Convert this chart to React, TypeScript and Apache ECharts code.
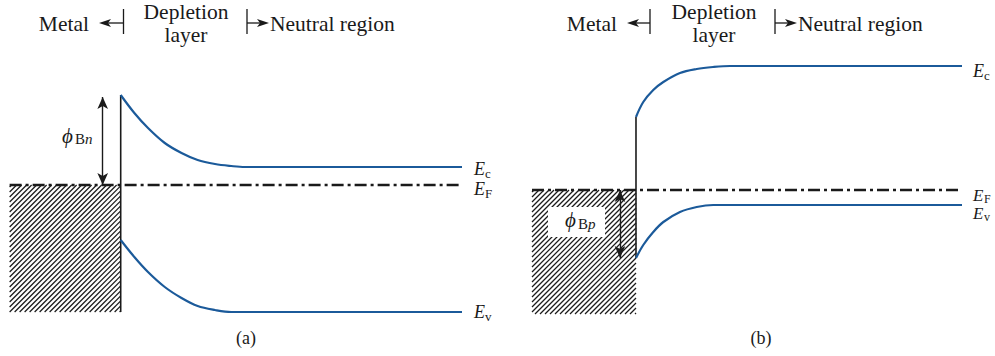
import React, { useEffect, useRef } from "react";
import * as echarts from "echarts";

// ---- Panel (a): n-type semiconductor (position in depletion widths, energy in eV, E_F = 0)
const depthA = [0, 0.11, 0.22, 0.355, 0.49, 0.62, 0.76, 0.89, 1.0, 2.75];
const ecA = [0.9, 0.72, 0.57, 0.42, 0.32, 0.25, 0.21, 0.19, 0.18, 0.18];
const evA = [-0.55, -0.72, -0.87, -1.02, -1.13, -1.21, -1.25, -1.27, -1.27, -1.27];
const metalA = [-0.895, -1.27]; // left edge, bottom
const fermiA = [-0.895, 2.75];
const phiBnArrow = [-0.145, 0.88]; // x, top

// ---- Panel (b): p-type semiconductor
const depthB = [0, 0.07, 0.166, 0.263, 0.423, 0.584, 0.743, 0.904, 1.064, 3.135];
const ecB = [0.73, 0.88, 1.0, 1.08, 1.17, 1.21, 1.23, 1.24, 1.24, 1.24];
const evB = [-0.68, -0.55, -0.42, -0.32, -0.22, -0.17, -0.15, -0.15, -0.15, -0.15];
const metalB = [-1.0, -1.24];
const fermiB = [-1.0, 3.135];
const phiBpArrow = [-0.154, -0.68];

const SERIF = '"Liberation Serif", "DejaVu Serif", "Times New Roman", serif';
const BLUE = "#1b5a9a";
const INK = "#1a1a1a";

function hatch(idx: number, left: number, bottom: number) {
  return {
    type: "custom",
    xAxisIndex: idx,
    yAxisIndex: idx,
    silent: true,
    z: 1,
    encode: { x: [0, 1], y: [2, 3] },
    data: [[left, 0, bottom, 0]],
    renderItem: (_p: any, api: any) => {
      const p0 = api.coord([api.value(0), api.value(3)]);
      const p1 = api.coord([api.value(1), api.value(2)]);
      const x0 = p0[0], y0 = p0[1], x1 = p1[0], y1 = p1[1];
      const step = 5;
      const children: any[] = [];
      for (let c = x0 + y0 + 2; c < x1 + y1; c += step) {
        const xa = Math.max(x0, c - y1);
        const xb = Math.min(x1, c - y0);
        if (xb <= xa) continue;
        children.push({
          type: "line",
          shape: { x1: xa, y1: c - xa, x2: xb, y2: c - xb },
          style: { stroke: INK, lineWidth: 1.25 },
        });
      }
      return { type: "group", children };
    },
  };
}

function curve(idx: number, xs: number[], ys: number[]) {
  return {
    type: "line",
    xAxisIndex: idx,
    yAxisIndex: idx,
    data: xs.map((x, i) => [x, ys[i]]),
    smooth: 0.35,
    symbol: "none",
    silent: true,
    z: 4,
    lineStyle: { color: BLUE, width: 2.2 },
  };
}

function seg(idx: number, pts: number[][], style: any) {
  return {
    type: "line",
    xAxisIndex: idx,
    yAxisIndex: idx,
    data: pts,
    symbol: "none",
    silent: true,
    z: 3,
    lineStyle: style,
  };
}

function arrow(idx: number, x: number, yA: number, yB: number) {
  return {
    type: "line",
    xAxisIndex: idx,
    yAxisIndex: idx,
    data: [],
    silent: true,
    z: 5,
    markLine: {
      silent: true,
      symbol: ["arrow", "arrow"],
      symbolSize: [8, 12],
      label: { show: false },
      lineStyle: { color: INK, width: 1.4, type: "solid" },
      data: [[{ coord: [x, yA] }, { coord: [x, yB] }]],
    },
  };
}

const subRich = {
  b: { fontFamily: SERIF, fontSize: 15, fill: INK },
  bi: { fontFamily: SERIF, fontSize: 15, fontStyle: "italic", fill: INK },
};

// symbol with a lowered subscript, drawn as two texts
function symbol(
  x: number, yc: number, main: string, mainSize: number,
  sub: string, subSize: number, subDx: number, subDy: number,
) {
  return [
    {
      type: "text", z: 60,
      style: {
        x, y: yc, text: main, fill: INK, align: "left", verticalAlign: "middle",
        font: `italic ${mainSize}px ${SERIF}`, lineHeight: mainSize - 4,
      },
    },
    {
      type: "text", z: 60,
      style: {
        x: x + subDx, y: yc + subDy, text: sub, rich: subRich, fill: INK, align: "left", verticalAlign: "middle",
        font: `${subSize}px ${SERIF}`, lineHeight: subSize - 2,
      },
    },
  ];
}

function header(dx: number, dxBar: number) {
  const line = (x1: number, y1: number, x2: number, y2: number) => ({
    type: "line",
    z: 60,
    shape: { x1, y1, x2, y2 },
    style: { stroke: INK, lineWidth: 1.3 },
  });
  const font = `21.5px ${SERIF}`;
  const txt = (x: number, y: number, text: string, align: string) => ({
    type: "text",
    z: 60,
    style: { x, y, text, font, lineHeight: 19, fill: INK, align, verticalAlign: "middle" },
  });
  return [
    txt(89 + dx, 24, "Metal", "right"),
    { type: "polygon", z: 60, shape: { points: [[99 + dx, 23], [111 + dx, 19], [108 + dx, 23], [111 + dx, 27]] }, style: { fill: INK } },
    line(108 + dx, 23, 123.5 + dxBar, 23),
    line(123.5 + dxBar, 9, 123.5 + dxBar, 34),
    txt(186 + dx, 12, "Depletion", "center"),
    txt(186 + dx, 35, "layer", "center"),
    line(247 + dx, 9, 247 + dx, 34),
    line(247 + dx, 23, 260 + dx, 23),
    { type: "polygon", z: 60, shape: { points: [[269 + dx, 23], [257 + dx, 19], [260 + dx, 23], [257 + dx, 27]] }, style: { fill: INK } },
    txt(270 + dx, 24, "Neutral region", "left"),
  ];
}

export default function App() {
  const ref = useRef<HTMLDivElement>(null);
  useEffect(() => {
    if (!ref.current) return;
    const chart = echarts.init(ref.current, undefined, { renderer: "svg" });
    const hidden = { show: false };
    chart.setOption({
      animation: false,
      backgroundColor: "#ffffff",
      grid: [
        { left: 9, width: 453, top: 60, height: 270 },
        { left: 532, width: 430, top: 40, height: 290 },
      ],
      xAxis: [
        { type: "value", gridIndex: 0, min: -0.9, max: 2.75, ...hidden },
        { type: "value", gridIndex: 1, min: -1.0, max: 3.135, ...hidden },
      ],
      yAxis: [
        { type: "value", gridIndex: 0, min: -1.45, max: 1.25, ...hidden },
        { type: "value", gridIndex: 1, min: -1.4, max: 1.5, ...hidden },
      ],
      series: [
        hatch(0, metalA[0], metalA[1]),
        hatch(1, metalB[0], metalB[1]),
        seg(0, [[fermiA[0], 0], [fermiA[1], 0]], { color: INK, width: 2.6, type: [12, 4, 3, 4] }),
        seg(1, [[fermiB[0], 0], [fermiB[1], 0]], { color: INK, width: 2.6, type: [12, 4, 3, 4] }),
        seg(0, [[0, ecA[0]], [0, metalA[1]]], { color: INK, width: 1.6 }),
        seg(1, [[0, ecB[0]], [0, evB[0]]], { color: INK, width: 1.6 }),
        curve(0, depthA, ecA),
        curve(0, depthA, evA),
        curve(1, depthB, ecB),
        curve(1, depthB, evB),
        arrow(0, phiBnArrow[0], 0, phiBnArrow[1]),
        arrow(1, phiBpArrow[0], 0, phiBpArrow[1]),
      ],
      graphic: [
        ...header(0, 0),
        ...header(528, 526.5),
        ...symbol(474, 169, "E", 18, "c", 13, 11, 4.5),
        ...symbol(474, 189, "E", 18, "F", 13, 11, 4.5),
        ...symbol(474, 312, "E", 18, "v", 13, 11, 4.5),
        ...symbol(973, 70.5, "E", 18, "c", 13, 11, 4.5),
        ...symbol(973, 195, "E", 17, "F", 12, 11, 4),
        ...symbol(973, 213, "E", 17, "v", 12, 11, 4),
        ...symbol(62, 135.5, "ϕ", 21, "{b|B}{bi|n}", 15, 13, 3.5),
        { type: "rect", z: 55, shape: { x: 548, y: 207, width: 57, height: 30 }, style: { fill: "#ffffff" } },
        ...symbol(565, 220, "ϕ", 21, "{b|B}{bi|p}", 15, 13, 3.5),
        { type: "text", z: 60, style: { x: 246, y: 338, text: "(a)", font: `18px ${SERIF}`, fill: INK, align: "center", verticalAlign: "middle" } },
        { type: "text", z: 60, style: { x: 761, y: 338, text: "(b)", font: `18px ${SERIF}`, fill: INK, align: "center", verticalAlign: "middle" } },
      ],
    });
    return () => chart.dispose();
  }, []);
  return (
    <div
      ref={ref}
      style={{ position: "fixed", left: 0, top: 0, width: 995, height: 356, background: "#fff" }}
    />
  );
}
